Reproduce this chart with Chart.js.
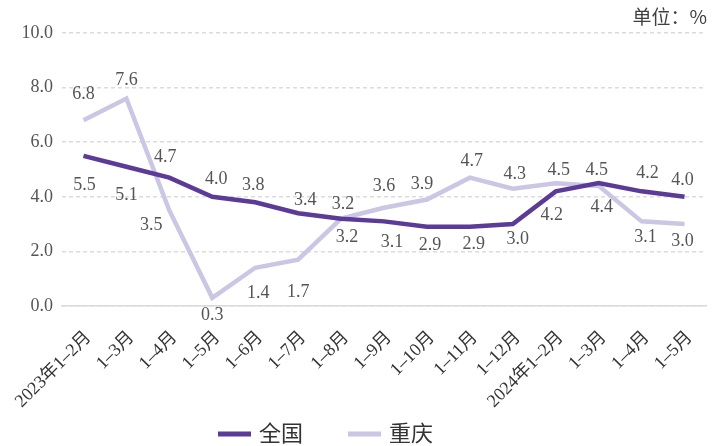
<!DOCTYPE html>
<html>
<head>
<meta charset="utf-8">
<script src="https://cdn.jsdelivr.net/npm/chart.js@4.4.1/dist/chart.umd.min.js"></script>
<style>
  html, body { margin: 0; padding: 0; background: #fff; }
  #wrap { width: 722px; height: 446px; }
</style>
</head>
<body>
<div id="wrap"><canvas id="grafico" width="722" height="446"></canvas></div>
<script>
// Dados do gráfico
const categorias = ['2023年1–2月', '1–3月', '1–4月', '1–5月', '1–6月', '1–7月', '1–8月', '1–9月',
  '1–10月', '1–11月', '1–12月', '2024年1–2月', '1–3月', '1–4月', '1–5月'];
const nomesSeries = ['全国', '重庆'];
const valoresNacional = [5.5, 5.1, 4.7, 4.0, 3.8, 3.4, 3.2, 3.1, 2.9, 2.9, 3.0, 4.2, 4.5, 4.2, 4.0];
const valoresChongqing = [6.8, 7.6, 3.5, 0.3, 1.4, 1.7, 3.2, 3.6, 3.9, 4.7, 4.3, 4.5, 4.4, 3.1, 3.0];
const unidade = '单位：%';

// Deslocamento dos rótulos de valor [dx, dy] em px, relativo ao ponto
const offsetNacional = [[1, 29], [0, 28], [-4, -20], [4, -18], [-2, -17], [7, -13], [2, -14], [8, 21],
  [3, 18], [4, 17], [5, 15], [-4, 24], [-2, -13], [6, -18], [-2, -17]];
const offsetChongqing = [[0, -26], [0, -18], [-18, 15], [0, 17], [3, 25], [0, 33], [6, 19], [0, -21],
  [-5, -15], [2, -16], [2, -14], [3, -13], [3, 21], [4, 16], [-2, 17]];

const corNacional = '#5b3b97';
const corChongqing = '#cac6e3';
const fonteNumeros = '"Liberation Serif", "Noto Sans CJK SC", serif';
const fonteCJK = '"Noto Sans CJK SC", sans-serif';

// Plugin para os rótulos de valor
const rotulosValor = {
  id: 'rotulosValor',
  afterDatasetsDraw(chart) {
    const ctx = chart.ctx;
    ctx.save();
    ctx.font = '18px ' + fonteNumeros;
    ctx.fillStyle = '#555555';
    ctx.textAlign = 'center';
    ctx.textBaseline = 'middle';
    chart.data.datasets.forEach((ds, di) => {
      const meta = chart.getDatasetMeta(di);
      meta.data.forEach((pt, i) => {
        const [dx, dy] = ds.offsets[i];
        ctx.fillText(ds.data[i].toFixed(1), pt.x + dx, pt.y + dy);
      });
    });
    ctx.restore();
  }
};

// Plugin para legenda e unidade
const legendaUnidade = {
  id: 'legendaUnidade',
  afterDraw(chart) {
    const ctx = chart.ctx;
    ctx.save();
    // unidade no canto superior direito
    ctx.font = '19px ' + fonteCJK;
    ctx.fillStyle = '#404040';
    ctx.textAlign = 'right';
    ctx.textBaseline = 'middle';
    ctx.fillText(unidade, 707, 17);

    // legenda embaixo
    ctx.font = '22px ' + fonteCJK;
    ctx.textAlign = 'left';
    let x = 218;
    const y = 434;
    chart.data.datasets.forEach((ds) => {
      ctx.fillStyle = ds.borderColor;
      ctx.fillRect(x, y - 2.5, 33, 5);
      ctx.fillStyle = '#333333';
      ctx.fillText(ds.label, x + 41, y - 1);
      x += 41 + ctx.measureText(ds.label).width + 45;
    });
    ctx.restore();
  }
};

const ctx = document.getElementById('grafico').getContext('2d');
const grafico = new Chart(ctx, {
  type: 'line',
  data: {
    labels: categorias,
    datasets: [
      {
        label: nomesSeries[0],
        data: valoresNacional,
        offsets: offsetNacional,
        borderColor: corNacional,
        backgroundColor: corNacional,
        borderWidth: 4.5,
        pointRadius: 0,
        tension: 0
      },
      {
        label: nomesSeries[1],
        data: valoresChongqing,
        offsets: offsetChongqing,
        borderColor: corChongqing,
        backgroundColor: corChongqing,
        borderWidth: 4.5,
        pointRadius: 0,
        tension: 0
      }
    ]
  },
  options: {
    responsive: false,
    animation: false,
    layout: { padding: { top: 33, right: 16, left: 0, bottom: 30 } },
    plugins: {
      legend: { display: false },
      tooltip: { enabled: false }
    },
    scales: {
      x: {
        offset: true,
        grid: { display: false, drawTicks: false },
        border: { display: true, color: '#d9d9d9', width: 1.5 },
        ticks: {
          autoSkip: false,
          maxRotation: 45,
          minRotation: 45,
          padding: 21,
          labelOffset: 5,
          color: '#333333',
          font: { family: fonteNumeros, size: 18 }
        },
        afterFit(scale) {
          scale.height = 110;
          scale.paddingLeft = 0;
          scale.paddingRight = 0;
        }
      },
      y: {
        min: 0,
        max: 10,
        grid: { color: '#dcdcdc', lineWidth: 1.5, drawTicks: false },
        border: { display: false, dash: [4, 3] },
        ticks: {
          stepSize: 2,
          padding: 9,
          color: '#555555',
          font: { family: fonteNumeros, size: 18 },
          callback: (v) => v.toFixed(1)
        },
        afterFit(scale) { scale.width = 62; }
      }
    }
  },
  plugins: [rotulosValor, legendaUnidade]
});
</script>
</body>
</html>
